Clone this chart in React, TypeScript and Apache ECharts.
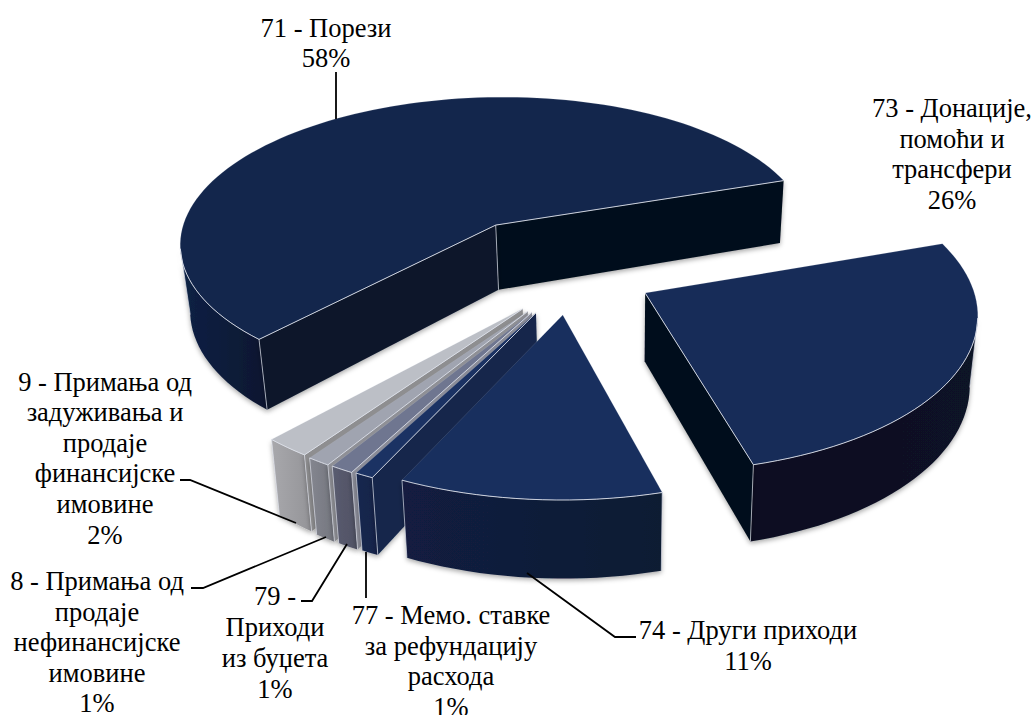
import React, { useEffect, useRef } from "react";
import * as echarts from "echarts";

// Estimated shares; the printed labels round them to whole percents.
const values = [58, 26, 11.3, 0.8, 1, 1, 2];
const labels = [
  "71 - Порези\n58%",
  "73 - Донације,\nпомоћи и\nтрансфери\n26%",
  "74 - Други приходи\n11%",
  "77 - Мемо. ставке\nза рефундацију\nрасхода\n1%",
  "79 -\nПриходи\nиз буџета\n1%",
  "8 - Примања од\nпродаје\nнефинансијске\nимовине\n1%",
  "9 - Примања од\nзадуживања и\nпродаје\nфинансијске\nимовине\n2%",
];
const topColors = ["#13264c", "#172c58", "#182f5e", "#1b3263", "#6f7690", "#a0a4b0", "#bcbfc6"];
const arcColors: string[][] = [
  ["#0e2145", "#0a1730"],
  ["#080f20", "#0a1226"],
  ["#121f40", "#0f1a33"],
  ["#13264e", "#12244a"],
  ["#5a5c70", "#505264"],
  ["#84868f", "#74767f"],
  ["#a8a8ac", "#949498"],
];
const startWallColors = ["#0a162b", "#080f20", "#0f1a33", "#13264c", "#8a8c98", "#8f9096", "#8e8e90"];
const endWallColors = ["#060e1b", "#060e1b", "#0f1a33", "#13264c", "#5a5c70", "#84868f", "#a8a8ac"];
// how far each slice is pulled out of the pie, in the pie's plane
const explodeX = [-77, 74, -7, -33, -37, -41, -46];
const explodeY = [103, -44, -88, -84, -83, -81, -76];

const labelLayout = [
  { x: 326, y: 43, lh: 30 },
  { x: 952, y: 154, lh: 30.7 },
  { x: 748, y: 645, lh: 31 },
  { x: 451, y: 661, lh: 30.5 },
  { x: 275, y: 642, lh: 31 },
  { x: 97, y: 642, lh: 30.5 },
  { x: 105, y: 458, lh: 30.6 },
];
const leaders: number[][][] = [
  [[336, 72], [336, 119]],
  [[527, 573], [615, 637], [636, 637]],
  [[366, 552], [366, 598]],
  [[347, 544], [312, 601], [301, 601]],
  [[326, 537], [203, 588], [191, 588]],
  [[296, 523], [190, 480], [180, 480]],
];

const view = { cx: 570, cy: 272, D: 2800, b: 0.472, R: 324, H: 67, start: 222.5, vx: 620, slant: 0.0225 };
const rad = (d: number) => (d * Math.PI) / 180;
const P = (X: number, Y: number, Z: number) => {
  const s = view.D / (view.D + Y);
  const x = view.cx + X * s;
  const k = 1 - (view.slant * Z) / view.H;
  return [view.vx + (x - view.vx) * k, view.cy - view.b * Y * s + Z * s];
};

const total = values.reduce((a, b) => a + b, 0);
const slices = values.map((v, i) => {
  const before = values.slice(0, i).reduce((a, b) => a + b, 0);
  const a0 = view.start + (before / total) * 360;
  const a1 = a0 + (v / total) * 360;
  const mid = rad((a0 + a1) / 2);
  return { i, a0, a1, ex: explodeX[i], ey: explodeY[i], depth: Math.cos(mid) };
});
const drawOrder = [...slices].sort((p, q) => q.depth - p.depth);

const vgrad = (c: string[]) =>
  new echarts.graphic.LinearGradient(0, 0, 1, 0, [
    { offset: 0, color: c[0] },
    { offset: 1, color: c[1] },
  ]);
const edge = "rgba(222,226,235,0.85)";
const shadow = { shadowBlur: 5, shadowColor: "rgba(0,0,0,0.35)", shadowOffsetY: 2 };

function renderItem(params: any) {
  const sl = drawOrder[params.dataIndex];
  const { i, a0, a1, ex, ey } = sl;
  const rim = (a: number, z: number) => P(ex + view.R * Math.sin(rad(a)), ey + view.R * Math.cos(rad(a)), z);
  const apexT = P(ex, ey, 0);
  const apexB = P(ex, ey, view.H);
  const n = Math.max(6, Math.round((a1 - a0) / 2));
  const angles = Array.from({ length: n + 1 }, (_, k) => a0 + ((a1 - a0) * k) / n);
  const top = [apexT, ...angles.map((a) => rim(a, 0))];
  const children: any[] = [];
  const addLine = (pts: number[][], w = 1, c = edge) =>
    children.push({ type: "polyline", shape: { points: pts }, style: { stroke: c, lineWidth: w, fill: "none" } });

  // outer wall: the part of the rim that runs right to left faces the viewer
  const front = angles.filter((a, k) => {
    const prev = rim(angles[Math.max(k - 1, 0)], 0);
    const next = rim(angles[Math.min(k + 1, n)], 0);
    return next[0] < prev[0];
  });
  if (front.length > 1) {
    const t = front.map((a) => rim(a, 0));
    const b = front.map((a) => rim(a, view.H)).reverse();
    children.push({
      type: "polygon",
      shape: { points: [...t, ...b] },
      style: { fill: vgrad(arcColors[i]), ...shadow },
    });
  }
  // radial walls
  const sT = rim(a0, 0), sB = rim(a0, view.H), eT = rim(a1, 0), eB = rim(a1, view.H);
  const showEnd = eT[0] > apexT[0];
  const showStart = sT[0] < apexT[0];
  if (showEnd) {
    children.push({ type: "polygon", shape: { points: [eT, apexT, apexB, eB] }, style: { fill: endWallColors[i], ...shadow } });
  }
  if (showStart) {
    children.push({ type: "polygon", shape: { points: [apexT, sT, sB, apexB] }, style: { fill: startWallColors[i], ...shadow } });
  }
  // top face
  children.push({
    type: "polygon",
    shape: { points: top },
    style: { fill: topColors[i], stroke: "rgba(200,205,220,0.25)", lineWidth: 0.6 },
  });
  // bright edges
  if (front.length > 1) {
    addLine(front.map((a) => rim(a, 0)));
    addLine([rim(front[0], 0), rim(front[0], view.H)], 0.8);
    addLine([rim(front[front.length - 1], 0), rim(front[front.length - 1], view.H)], 0.8);
  }
  if (showEnd) addLine([eT, apexT], 1);
  if (showStart) addLine([apexT, sT], 1);
  if (showEnd && showStart) addLine([apexT, apexB], 0.8);
  return { type: "group", children };
}

export default function App() {
  const ref = useRef<HTMLDivElement>(null);
  useEffect(() => {
    const chart = echarts.init(ref.current!, undefined, { renderer: "svg" });
    chart.setOption({
      animation: false,
      backgroundColor: "#ffffff",
      series: [
        {
          type: "custom",
          coordinateSystem: "none",
          silent: true,
          clip: false,
          data: drawOrder.map((s) => [values[s.i]]),
          renderItem,
        },
      ],
      graphic: {
        elements: [
          ...leaders.map((pts) => ({
            type: "polyline",
            z: 10,
            shape: { points: pts },
            style: { stroke: "#000", lineWidth: 1.8, fill: "none" },
          })),
          ...labels.map((t, i) => ({
            type: "text",
            z: 11,
            x: labelLayout[i].x,
            y: labelLayout[i].y,
            style: {
              text: t,
              fill: "#000",
              font: "26.5px 'Liberation Serif'",
              lineHeight: labelLayout[i].lh,
              align: "center",
              verticalAlign: "middle",
            },
          })),
        ],
      },
    });
    return () => chart.dispose();
  }, []);
  return <div ref={ref} style={{ position: "fixed", left: 0, top: 0, width: 1033, height: 715 }} />;
}
